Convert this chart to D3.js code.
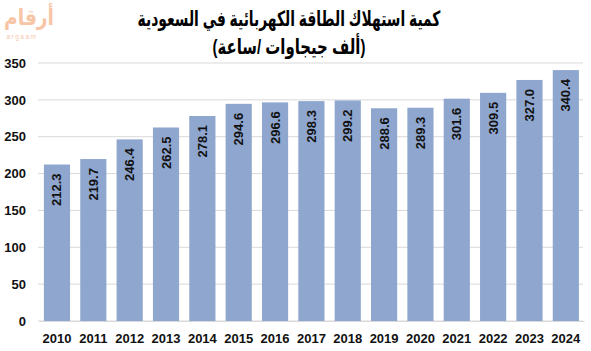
<!DOCTYPE html>
<html><head><meta charset="utf-8">
<script src="https://cdn.jsdelivr.net/npm/d3@7"></script>
<style>body{margin:0;background:#fff}svg{display:block}</style>
</head><body>
<script>
const years = ["2010","2011","2012","2013","2014","2015","2016","2017","2018","2019","2020","2021","2022","2023","2024"];
const values = [212.3,219.7,246.4,262.5,278.1,294.6,296.6,298.3,299.2,288.6,289.3,301.6,309.5,327.0,340.4];
const yTicks = [0,50,100,150,200,250,300,350];
const titleLines = ["كمية استهلاك الطاقة الكهربائية في السعودية","(ألف جيجاوات /ساعة)"];

const W=591,H=351;
const svg=d3.select("body").append("svg").attr("width",W).attr("height",H);
const x=d3.scaleBand().domain(years).range([38.8,584]).paddingInner(0.28).paddingOuter(0.14);
const y=d3.scaleLinear().domain([0,350]).range([321,63]);
const F="Arial, Liberation Sans, sans-serif";

svg.append("g").selectAll("line").data(yTicks).join("line")
  .attr("x1",38).attr("x2",583).attr("y1",d=>y(d)).attr("y2",d=>y(d))
  .attr("stroke","#d9d9d9").attr("stroke-width",1);

const ya=svg.append("g").attr("transform","translate(26,0)")
  .call(d3.axisLeft(y).tickValues(yTicks).tickSize(0).tickPadding(0));
ya.select(".domain").remove();
ya.selectAll("text").attr("font-family",F).attr("font-size","13px").attr("font-weight","bold").attr("fill","#111");

svg.append("g").selectAll("rect").data(values).join("rect")
  .attr("x",(d,i)=>x(years[i])).attr("width",x.bandwidth())
  .attr("y",d=>y(d)).attr("height",d=>y(0)-y(d)).attr("fill","#8fa6cf");

svg.append("g").selectAll("text").data(values).join("text")
  .attr("transform",(d,i)=>`translate(${x(years[i])+x.bandwidth()/2+4.5},${y(d)+9}) rotate(-90)`)
  .attr("text-anchor","end")
  .attr("font-family",F).attr("font-size","13px").attr("font-weight","bold").attr("fill","#111")
  .text(d=>d.toFixed(1));

const xa=svg.append("g").attr("transform",`translate(0,${y(0)})`)
  .call(d3.axisBottom(x).tickSize(0).tickPadding(13));
xa.select(".domain").attr("stroke","#d9d9d9");
xa.selectAll("text").attr("font-family",F).attr("font-size","13px").attr("font-weight","bold").attr("fill","#111");

// title: bigger glyphs, horizontally fitted to the reference widths
const targetW=[303,153];
const tt=svg.append("g").selectAll("text").data(titleLines).join("text")
  .attr("x",0).attr("y",0).attr("text-anchor","middle")
  .attr("font-family","Arial, Liberation Sans, DejaVu Sans, sans-serif").attr("font-size","21px").attr("font-weight","bold").attr("fill","#000")
  .text(d=>d);
tt.each(function(d,i){
  const w=this.getComputedTextLength();
  const sx=targetW[i]/w;
  d3.select(this).attr("transform",`translate(289,${i?54:26}) scale(${sx},1)`);
});

// logo
const logo=svg.append("g").attr("opacity",0.5);
const lt=logo.append("text").attr("text-anchor","middle")
  .attr("font-family","Arial, Liberation Sans, DejaVu Sans, sans-serif").attr("font-size","22px").attr("font-weight","bold").attr("fill","#f08c50").text("أرقام");
{ const w=lt.node().getComputedTextLength(); lt.attr("transform",`translate(29,25) scale(${Math.min(1,50/w)},1)`); }
logo.append("text").attr("x",22).attr("y",39).attr("text-anchor","middle")
  .attr("font-family","Arial, sans-serif").attr("font-size","6.5px").attr("letter-spacing","1.5").attr("fill","#f08c50").text("argaam");
</script>
</body></html>
